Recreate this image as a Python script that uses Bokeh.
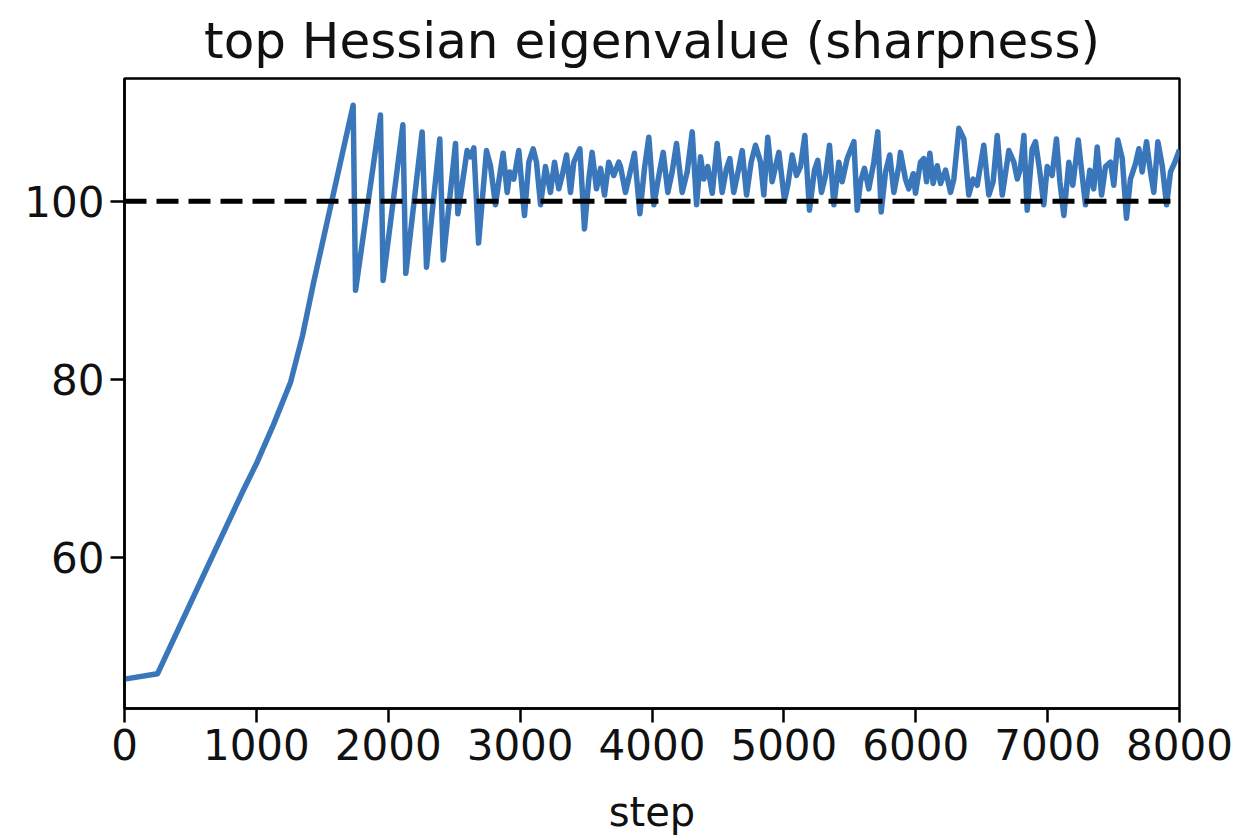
from bokeh.plotting import figure
from bokeh.models import FixedTicker, Range1d, Span
from bokeh.embed import file_html
from bokeh.resources import INLINE

# Training step at which sharpness was measured
steps = [
    0, 250, 600, 900, 1000, 1130, 1260, 1350, 1433, 1734, 1752, 1941, 1961, 2111, 2133, 2257,
    2290, 2391, 2417, 2510, 2528, 2598, 2625, 2649, 2685,
    2745, 2775, 2813, 2838, 2871, 2902, 2922, 2952, 2990, 3033, 3066, 3099, 3124,
    3155, 3192, 3230, 3261, 3293, 3319, 3352, 3382, 3407, 3453, 3488, 3521, 3546,
    3579, 3610, 3640, 3672, 3710, 3748,
    3761, 3799, 3867, 3908, 3943, 3976, 4014, 4052, 4085, 4120, 4153, 4186, 4229,
    4267, 4305, 4338, 4368, 4393, 4423, 4457, 4494, 4532, 4565, 4590, 4620, 4658,
    4684, 4717, 4752, 4785,
    4823, 4848, 4878, 4911, 4937, 4962, 5005, 5030, 5063, 5096, 5126, 5159, 5194,
    5232, 5257, 5285, 5316, 5346, 5379, 5417, 5442, 5480, 5531, 5556, 5581, 5611,
    5644, 5682, 5712, 5738, 5771, 5803, 5834, 5872,
    5884, 5922, 5947, 5981, 5998, 6036, 6061, 6082, 6107, 6132, 6163, 6188, 6226,
    6264, 6289, 6327, 6365, 6402, 6435, 6466, 6516, 6554, 6587, 6618, 6656, 6706,
    6744, 6770, 6794, 6820, 6845, 6883, 6908, 6941,
    6971, 6997, 7034, 7067, 7093, 7123, 7161, 7191, 7232, 7262, 7287, 7320, 7350,
    7376, 7409, 7439, 7477, 7502, 7532, 7566, 7598, 7628, 7666, 7692, 7717, 7750,
    7780, 7805, 7836, 7869, 7902, 7932, 7965, 8000,
]

# Top Hessian eigenvalue at each measured step
sharpness = [
    46.3, 46.9, 58.0, 67.5, 70.5, 74.9, 79.7, 84.9, 90.8, 110.8, 90.0, 109.7, 91.1, 108.6, 91.9, 107.8,
    92.6, 107.0, 93.4, 106.5, 98.6, 105.7, 105.0, 106.0, 95.3,
    105.7, 104.0, 99.6, 102.2, 105.4, 101.0, 103.3, 102.5, 105.7, 98.4, 104.4, 105.9, 104.4,
    99.6, 103.9, 101.0, 104.4, 101.4, 102.9, 105.2, 101.0, 104.4, 105.9, 96.9, 102.5, 105.5,
    101.4, 103.7, 100.7, 104.4, 102.9, 104.4,
    103.9, 101.0, 105.4, 98.6, 103.7, 107.2, 99.6, 102.9, 105.5, 101.0, 103.3, 106.5, 101.0,
    103.3, 107.8, 99.6, 105.0, 102.5, 103.9, 100.9, 106.5, 101.0, 103.7, 104.8, 101.0, 103.7,
    105.7, 100.7, 104.4, 106.3,
    104.4, 100.7, 107.2, 102.2, 103.9, 105.5, 100.1, 101.8, 105.2, 102.9, 103.9, 107.4, 99.0,
    103.5, 104.6, 101.0, 102.9, 106.3, 99.6, 104.4, 102.2, 104.8, 106.7, 99.0, 102.2, 103.7,
    101.4, 104.4, 107.8, 98.8, 103.3, 105.2, 101.0, 104.0,
    105.5, 102.5, 101.4, 103.1, 100.9, 104.4, 104.8, 102.2, 105.4, 102.0, 104.0, 102.0, 103.5,
    101.0, 102.5, 108.2, 107.0, 100.7, 102.5, 101.8, 106.3, 100.7, 102.2, 107.4, 100.7, 105.7,
    104.4, 102.5, 103.7, 107.4, 99.0, 105.9, 106.7, 103.3,
    99.6, 103.9, 102.9, 107.0, 102.2, 98.4, 104.4, 101.8, 106.9, 102.9, 99.6, 103.5, 101.4,
    106.1, 100.7, 103.9, 104.4, 101.8, 106.9, 104.8, 98.1, 102.5, 104.2, 105.9, 103.3, 106.7,
    103.3, 101.0, 106.7, 104.0, 99.6, 103.3, 104.4, 105.8,
]

# Stability threshold 2/eta
threshold = 100

x_ticks = [0, 1000, 2000, 3000, 4000, 5000, 6000, 7000, 8000]
y_ticks = [60, 80, 100]

FONT = "DejaVu Sans"

p = figure(
    width=1236, height=838,
    output_backend="svg", toolbar_location=None,
    x_range=Range1d(0, 8000), y_range=Range1d(43.0, 113.8),
    min_border_left=124, min_border_right=57,
    min_border_top=78, min_border_bottom=130,
    title="top Hessian eigenvalue (sharpness)",
)

p.title.align = "center"
p.title.text_font = FONT
p.title.text_font_size = "50px"
p.title.text_font_style = "normal"
p.title.text_color = "#111111"
p.title.offset = 0
p.title.standoff = 18

p.background_fill_color = "white"
p.border_fill_color = "white"
p.outline_line_color = "black"
p.outline_line_width = 2.5
p.xgrid.visible = False
p.ygrid.visible = False

for ax in (p.xaxis[0], p.yaxis[0]):
    ax.axis_line_color = "black"
    ax.axis_line_width = 2.5
    ax.major_tick_line_color = "black"
    ax.major_tick_line_width = 2.5
    ax.major_tick_out = 14
    ax.major_tick_in = 0
    ax.minor_tick_line_color = None
    ax.major_label_text_font = FONT
    ax.major_label_text_font_size = "42px"
    ax.major_label_text_color = "#111111"
    ax.major_label_standoff = 6

p.xaxis.ticker = FixedTicker(ticks=x_ticks)
p.yaxis.ticker = FixedTicker(ticks=y_ticks)
p.xaxis.axis_label = "step"
p.xaxis.axis_label_text_font = FONT
p.xaxis.axis_label_text_font_size = "40px"
p.xaxis.axis_label_text_font_style = "normal"
p.xaxis.axis_label_text_color = "#111111"
p.xaxis.axis_label_standoff = 26

p.line(steps, sharpness, line_color="#3a77ba", line_width=5.5, line_join="round")

p.add_layout(Span(location=threshold, dimension="width", line_color="black",
                  line_width=5, line_dash="22 10"))

open("out.html", "w").write(file_html(p, INLINE))
